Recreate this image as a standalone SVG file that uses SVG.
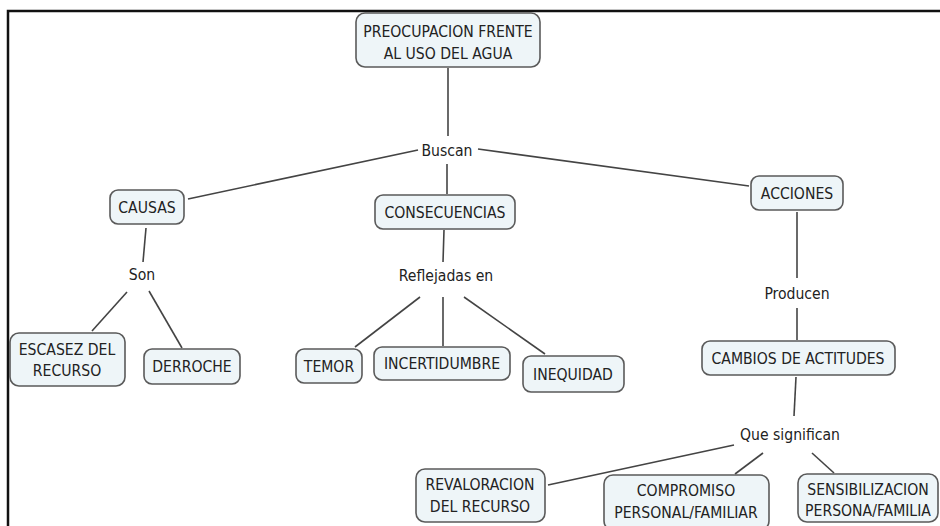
<svg xmlns="http://www.w3.org/2000/svg" width="940" height="526" viewBox="0 0 940 526">
<style>
.n rect{fill:#eef5f8;stroke:#5a5a5a;stroke-width:1.6}
text{font-family:"DejaVu Sans Condensed","DejaVu Sans",sans-serif;font-size:15.6px;fill:#222;text-anchor:middle}
.c line{stroke:#444;stroke-width:1.6}
</style>
<rect width="940" height="526" fill="#fff"/>
<path d="M8,526 V11 H940" fill="none" stroke="#111" stroke-width="2.5"/>
<g class="c">
<line x1="448" y1="68" x2="448" y2="136"/>
<line x1="418" y1="150" x2="188" y2="199"/>
<line x1="478" y1="149" x2="749" y2="186"/>
<line x1="447" y1="164" x2="447" y2="194"/>
<line x1="146" y1="228" x2="143" y2="262"/>
<line x1="127" y1="292" x2="92" y2="331"/>
<line x1="149" y1="291" x2="182" y2="348"/>
<line x1="444" y1="230" x2="443" y2="262"/>
<line x1="420" y1="297" x2="355" y2="347"/>
<line x1="443" y1="297" x2="443" y2="346"/>
<line x1="464" y1="297" x2="545" y2="354"/>
<line x1="797" y1="212" x2="797" y2="278"/>
<line x1="797" y1="308" x2="797" y2="340"/>
<line x1="796" y1="377" x2="794" y2="416"/>
<line x1="734" y1="445" x2="548" y2="485"/>
<line x1="763" y1="453" x2="735" y2="474"/>
<line x1="812" y1="453" x2="834" y2="473"/>
</g>
<text x="447" y="156">Buscan</text>
<text x="142" y="280">Son</text>
<text x="446" y="281">Reflejadas en</text>
<text x="797" y="299">Producen</text>
<text x="790" y="440">Que significan</text>
<g id="preocupacion" class="n"><rect x="356" y="13" width="184" height="54" rx="9"/><text x="448" y="37">PREOCUPACION FRENTE</text><text x="448" y="59">AL USO DEL AGUA</text></g>
<g id="causas" class="n"><rect x="110" y="190" width="74" height="34" rx="8"/><text x="147" y="213">CAUSAS</text></g>
<g id="consecuencias" class="n"><rect x="375" y="195" width="140" height="34" rx="8"/><text x="445" y="218">CONSECUENCIAS</text></g>
<g id="acciones" class="n"><rect x="751" y="176" width="92" height="34" rx="8"/><text x="797" y="199">ACCIONES</text></g>
<g id="escasez" class="n"><rect x="10" y="333" width="115" height="53" rx="9"/><text x="67" y="355">ESCASEZ DEL</text><text x="67" y="376">RECURSO</text></g>
<g id="derroche" class="n"><rect x="144" y="349" width="96" height="35" rx="8"/><text x="192" y="372">DERROCHE</text></g>
<g id="temor" class="n"><rect x="296" y="349" width="66" height="34" rx="8"/><text x="329" y="372">TEMOR</text></g>
<g id="incertidumbre" class="n"><rect x="374" y="347" width="136" height="33" rx="8"/><text x="442" y="369">INCERTIDUMBRE</text></g>
<g id="inequidad" class="n"><rect x="523" y="356" width="101" height="36" rx="8"/><text x="573" y="380">INEQUIDAD</text></g>
<g id="cambios" class="n"><rect x="702" y="341" width="193" height="34" rx="8"/><text x="798" y="364">CAMBIOS DE ACTITUDES</text></g>
<g id="revaloracion" class="n"><rect x="416" y="469" width="129" height="53" rx="9"/><text x="480" y="490">REVALORACION</text><text x="480" y="512">DEL RECURSO</text></g>
<g id="compromiso" class="n"><rect x="604" y="475" width="165" height="55" rx="9"/><text x="686" y="496">COMPROMISO</text><text x="686" y="518">PERSONAL/FAMILIAR</text></g>
<g id="sensibilizacion" class="n"><rect x="798" y="474" width="140" height="48" rx="9"/><text x="868" y="495">SENSIBILIZACION</text><text x="868" y="516">PERSONA/FAMILIA</text></g>
</svg>
